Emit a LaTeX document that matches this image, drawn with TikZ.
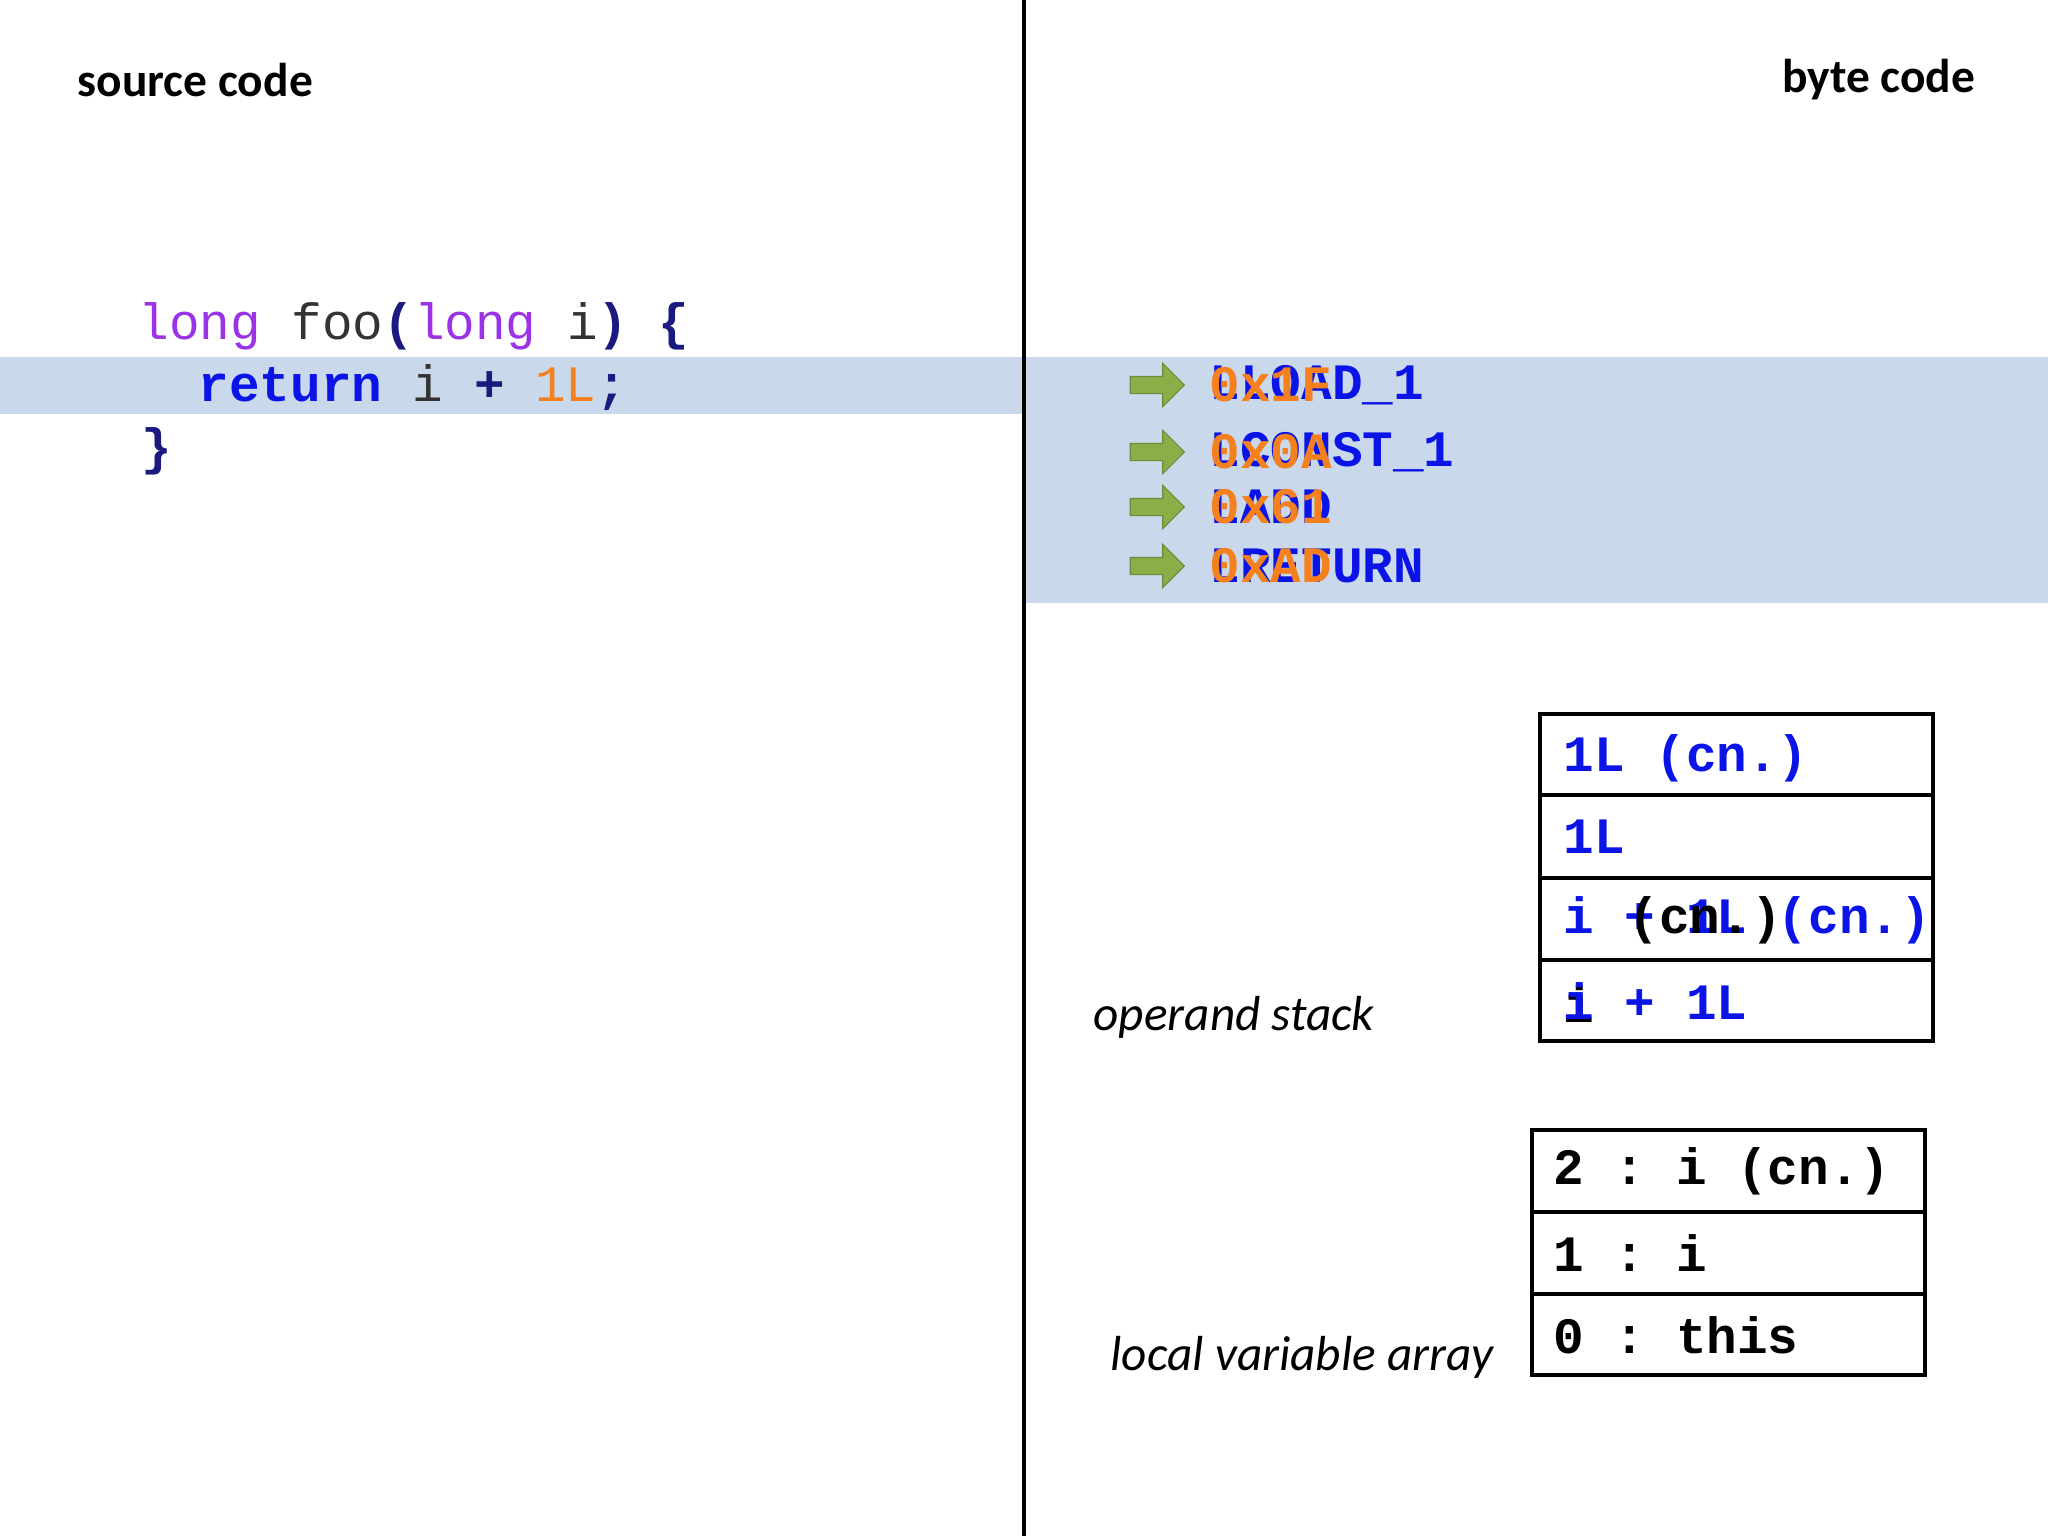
\documentclass[tikz,border=0pt]{standalone}
\usepackage{fontspec}
\setmainfont{Carlito}
\setmonofont{Liberation Mono}
\usetikzlibrary{shapes.arrows}
\definecolor{band}{HTML}{C9D8EA}
\definecolor{kw}{HTML}{9A32E6}
\definecolor{navy}{HTML}{1A1A80}
\definecolor{bblue}{HTML}{0A14E6}
\definecolor{org}{HTML}{F5801E}
\definecolor{grn}{HTML}{8AAE48}
\tikzset{
  cd/.style={anchor=west,inner sep=0pt,font=\fontsize{14.5}{16}\selectfont\ttfamily},
  bc/.style={cd,text=bblue,font=\fontsize{14.5}{16}\selectfont\ttfamily\bfseries},
  hx/.style={cd,text=org,font=\fontsize{14.5}{16}\selectfont\ttfamily\bfseries},
  head/.style={inner sep=0pt,font=\fontsize{13.5}{15}\selectfont\bfseries},
  lab/.style={inner sep=0pt,font=\fontsize{14}{16}\selectfont\itshape},
  garrow/.style={single arrow,fill=grn,draw=grn!80!black,line width=0.3pt,minimum height=0.54cm,minimum width=0.42cm,single arrow head extend=0.13cm,single arrow tip angle=90,inner xsep=0pt,inner ysep=0.08cm},
  cell/.style={draw,line width=0.9pt}
}
\begin{document}
\begin{tikzpicture}[x=0.01cm,y=-0.01cm]
\useasboundingbox (0,0) rectangle (2048,1536);
\fill[white] (0,0) rectangle (2048,1536);
\fill[band] (0,357) rectangle (1024,414);
\fill[band] (1024,357) rectangle (2048,603);
\draw[line width=1.4pt] (1024,0) -- (1024,1536);
\node[head,anchor=west] (src) at (77,80) {source code};
\node[head,anchor=east] (byt) at (1976,80) {byte code};
% source
\node[cd] (l1) at (138,326) {\textcolor{kw}{long} \textcolor{black!80}{foo}\textcolor{navy}{\bfseries(}\textcolor{kw}{long} \textcolor{black!80}{i}\textcolor{navy}{\bfseries)} \textcolor{navy}{\bfseries\{}};
\node[cd] (l2) at (198,388) {\textcolor{bblue}{\bfseries return} \textcolor{black!80}{i} \textcolor{navy}{\bfseries+} \textcolor{org}{1L}\textcolor{navy}{\bfseries;}};
\node[cd] (l3) at (141,451) {\textcolor{navy}{\bfseries\}}};
% byte code
\foreach \y/\op/\hx [count=\k] in {385/LLOAD\_1/0x1F,452/LCONST\_1/0x0A,507/LADD/0x61,566/LRETURN/0xAD}{
  \node[garrow] (a\k) at (1153,\y) {};
  \node[bc] (o\k) at (1209,\y) {\op};
  \node[hx] (h\k) at (1209,\y) {\hx};
}
% operand stack
\draw[cell] (1540,714) rectangle (1933,1041);
\foreach \y in {795,878,960} \draw[cell] (1540,\y) -- (1933,\y);
\node[bc] (s1) at (1563,758) {1L (cn.)};
\node[bc] (s2) at (1563,837) {1L};
\node[bc] (s3) at (1563,920) {i + 1L (cn.)};
\node[cd,font=\fontsize{14.5}{16}\selectfont\ttfamily\bfseries] (s3b) at (1628,920) {(cn.)};
\node[cd,font=\fontsize{14.5}{16}\selectfont\ttfamily\bfseries] (s4b) at (1563,1004) {i};
\node[bc] (s4) at (1563,1001) {i + 1L};
\node[lab,anchor=west] (ops) at (1093,1017) {operand stack};
% locals
\draw[cell] (1532,1130) rectangle (1925,1375);
\foreach \y in {1212,1294} \draw[cell] (1532,\y) -- (1925,\y);
\node[cd,font=\fontsize{14.5}{16}\selectfont\ttfamily\bfseries] (v2) at (1553,1171) {2 : i (cn.)};
\node[cd,font=\fontsize{14.5}{16}\selectfont\ttfamily\bfseries] (v1) at (1553,1253) {1 : i};
\node[cd,font=\fontsize{14.5}{16}\selectfont\ttfamily\bfseries] (v0) at (1553,1335) {0 : this};
\node[lab,anchor=west] (lva) at (1110,1357) {local variable array};
\end{tikzpicture}
\end{document}
